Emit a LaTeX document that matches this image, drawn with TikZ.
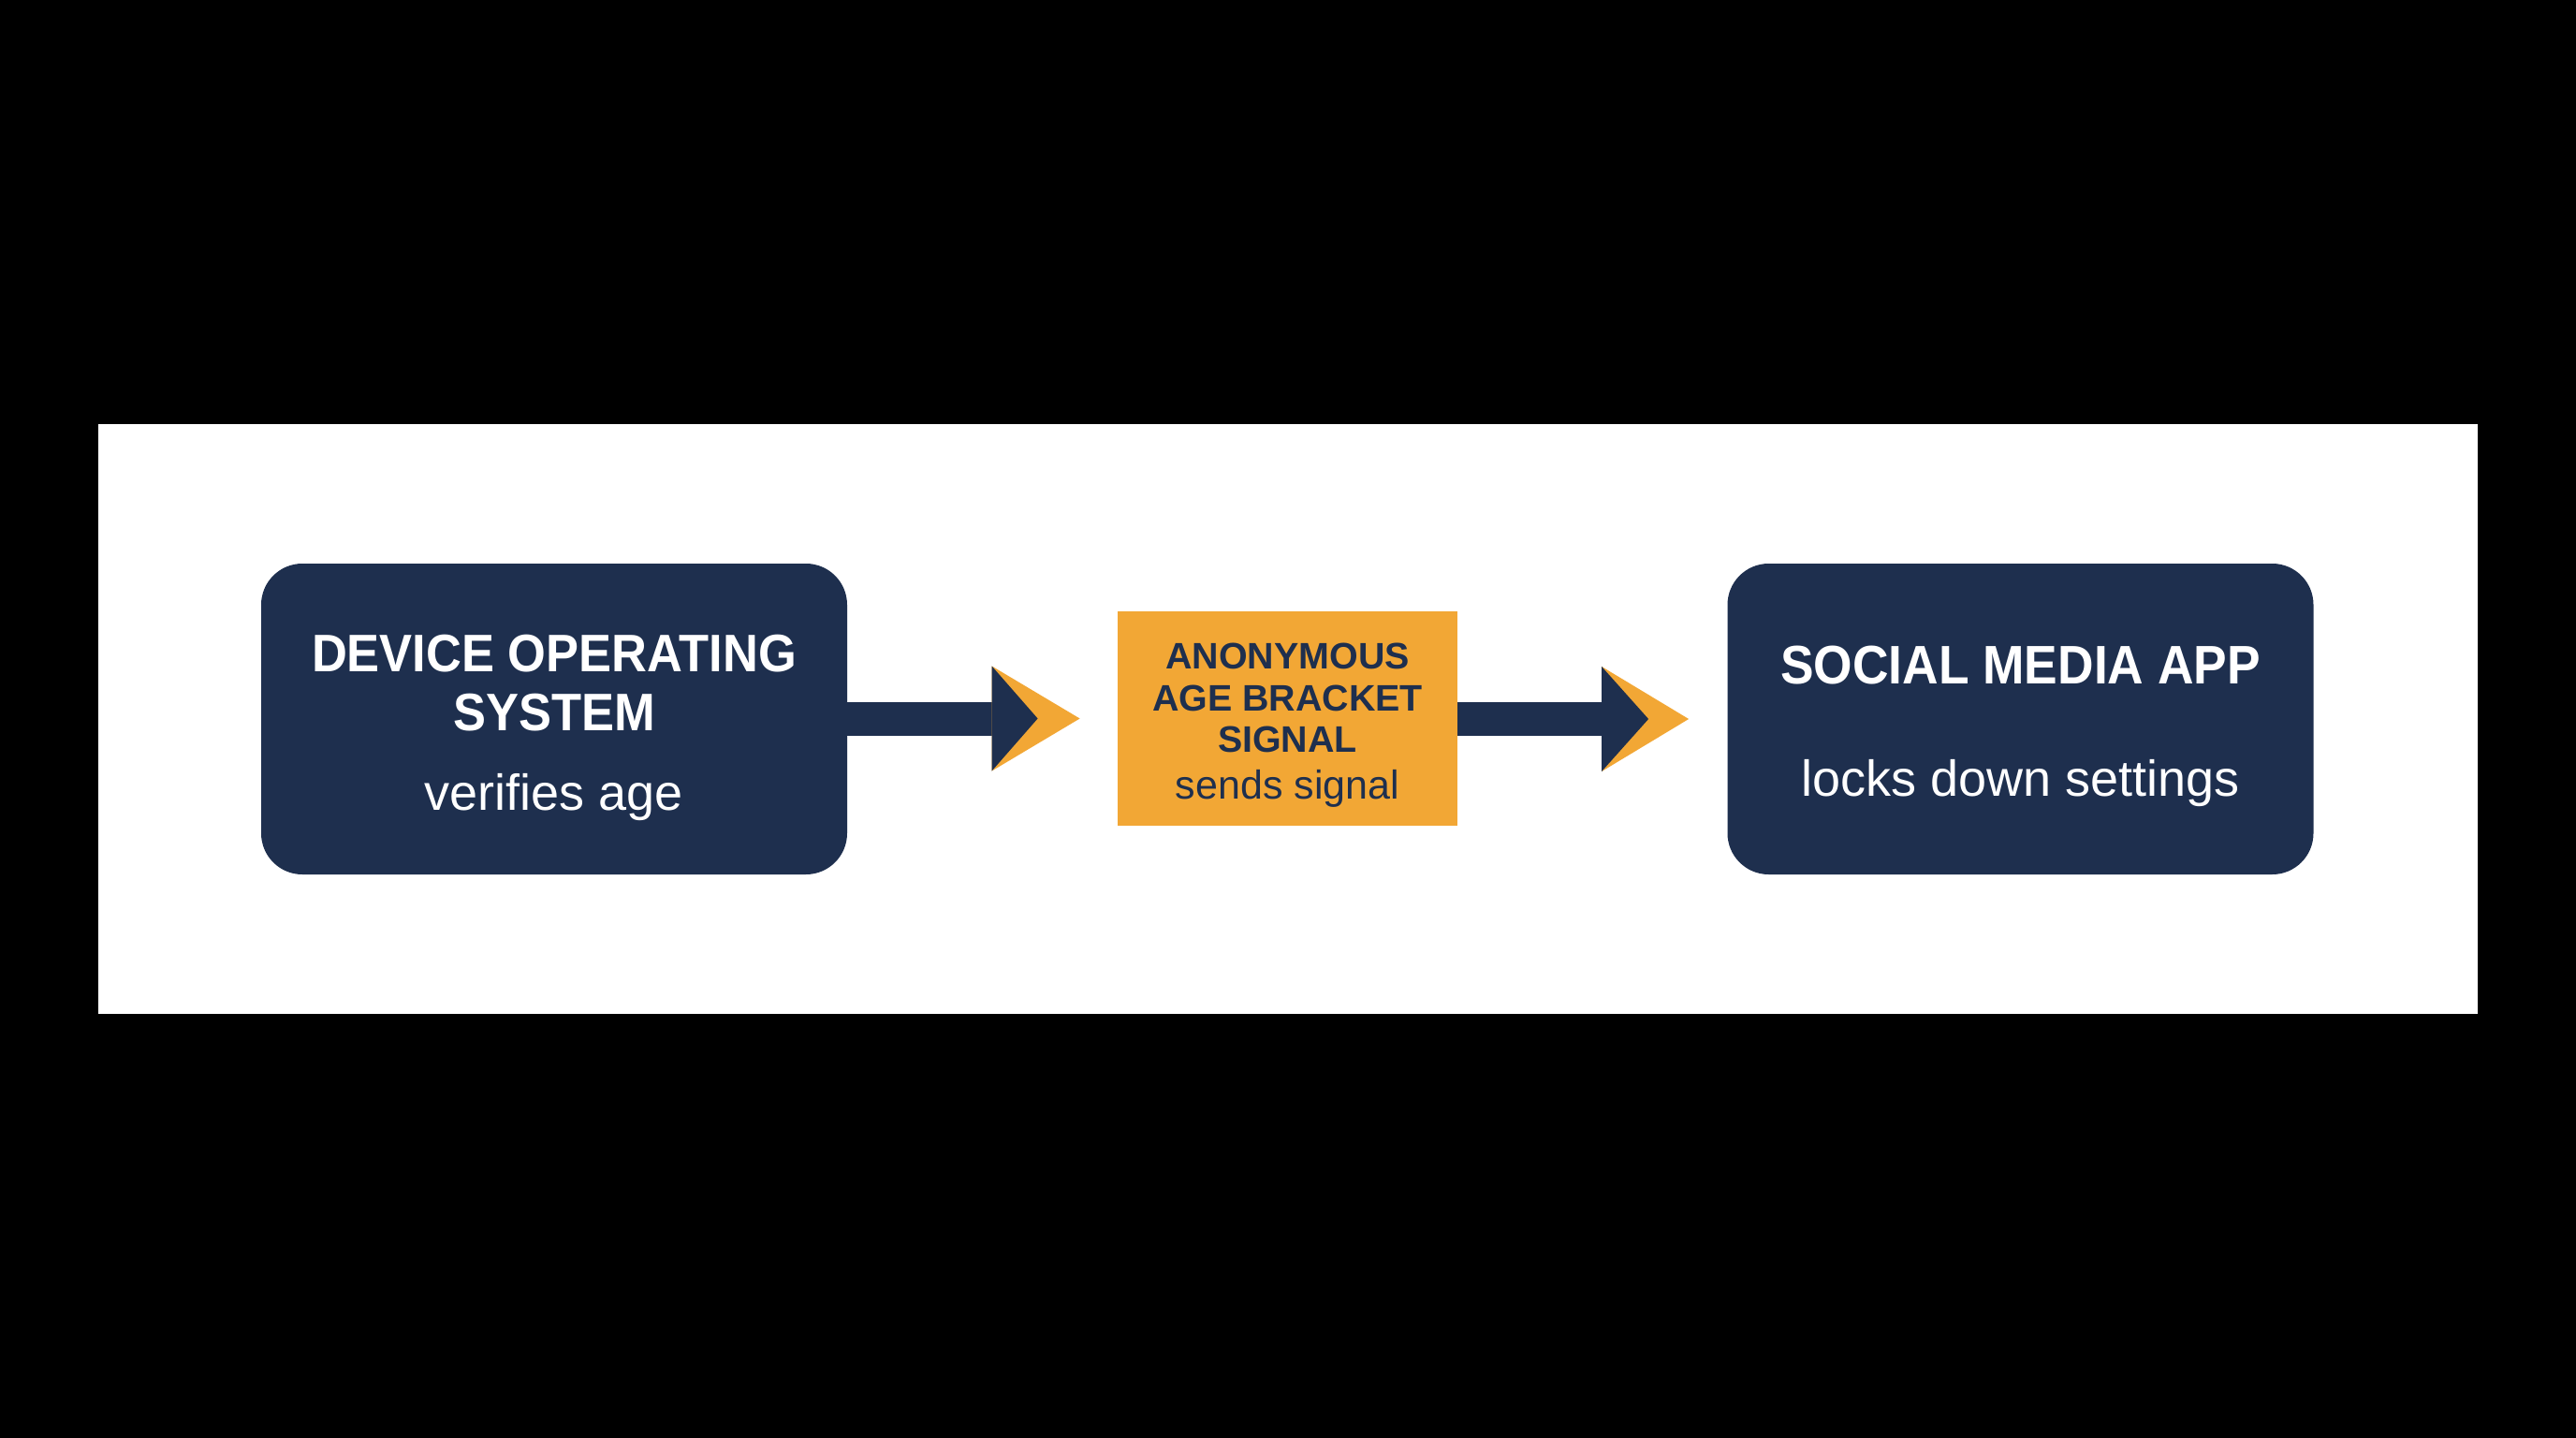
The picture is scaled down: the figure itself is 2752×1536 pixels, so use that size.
\documentclass[tikz,border=0pt]{standalone}
\usepackage{fontspec}
\setmainfont{Liberation Sans}
\usetikzlibrary{calc}
\definecolor{navy}{HTML}{1E2F4E}
\definecolor{amber}{HTML}{F2A735}
\tikzset{
  darkbox/.style={fill=navy, draw=none, rounded corners=22pt, minimum width=313pt, minimum height=166pt, inner sep=0pt},
  signalbox/.style={fill=amber, draw=none, minimum width=181.5pt, minimum height=114.5pt, inner sep=0pt},
  titletext/.style={anchor=base, text=white, inner sep=0pt},
  subtext/.style={anchor=base, text=white, inner sep=0pt, font=\fontsize{27pt}{30pt}\selectfont},
  midtitle/.style={anchor=base, text=navy, inner sep=0pt, font=\fontsize{19.7pt}{22pt}\selectfont\bfseries},
  midsub/.style={anchor=base, text=navy, inner sep=0pt, font=\fontsize{21.5pt}{24pt}\selectfont},
}
\begin{document}
\begin{tikzpicture}[x=0.5pt, y=-0.5pt]
  % background and panel
  \fill[black] (0,0) rectangle (2752,1536);
  \useasboundingbox (0,0) rectangle (2752,1536);
  \fill[white] (105,453) rectangle (2647,1083);

  % boxes
  \node[darkbox] (os) at (592,768) {};
  \node[signalbox] (sig) at (1375.5,767.5) {};
  \node[darkbox] (app) at (2158.5,768) {};

  % texts
  \node[titletext, font=\fontsize{28.2pt}{31pt}\selectfont\bfseries\addfontfeature{FakeStretch=0.93}] (os1) at (592,717) {DEVICE OPERATING};
  \node[titletext, font=\fontsize{28.2pt}{31pt}\selectfont\bfseries\addfontfeature{FakeStretch=0.93}] (os2) at (592,780) {SYSTEM};
  \node[subtext] (os3) at (592,865) {verifies age};

  \node[midtitle] (sig1) at (1375.5,714) {ANONYMOUS};
  \node[midtitle] (sig2) at (1375.5,759) {AGE BRACKET};
  \node[midtitle] (sig3) at (1375.5,803) {SIGNAL};
  \node[midsub] (sig4) at (1375.5,853) {sends signal};

  \node[titletext, font=\fontsize{29pt}{32pt}\selectfont\bfseries\addfontfeature{FakeStretch=0.92}] (app1) at (2158.5,730) {SOCIAL MEDIA APP};
  \node[subtext] (app2) at (2158.5,850) {locks down settings};

  % arrow 1
  \coordinate (t1) at ($(sig.west)+(-40,0)$);
  \fill[navy] ($(os.east)+(-2,-18)$) rectangle ($(t1)+(-92,18)$);
  \fill[amber] ($(t1)+(-94,-56)$) -- (t1) -- ($(t1)+(-94,56)$) -- cycle;
  \fill[navy] ($(t1)+(-94,-56)$) -- ($(t1)+(-45,0)$) -- ($(t1)+(-94,56)$) -- cycle;

  % arrow 2
  \coordinate (t2) at ($(app.west)+(-41,0)$);
  \fill[navy] ($(sig.east)+(0,-18)$) rectangle ($(t2)+(-91,18)$);
  \fill[amber] ($(t2)+(-93,-56)$) -- (t2) -- ($(t2)+(-93,56)$) -- cycle;
  \fill[navy] ($(t2)+(-93,-56)$) -- ($(t2)+(-43,0)$) -- ($(t2)+(-93,56)$) -- cycle;
\end{tikzpicture}
\end{document}
